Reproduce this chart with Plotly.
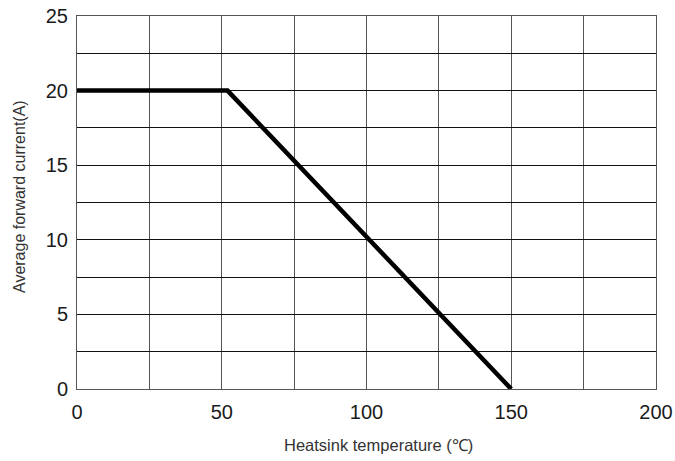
import plotly.graph_objects as go

# Data
temp_c = [0, 52, 150]
current_a = [20, 20, 0]

x_grid = [0, 25, 50, 75, 100, 125, 150, 175, 200]
x_labels = ["0", "", "50", "", "100", "", "150", "", "200"]
y_grid = [0, 2.5, 5, 7.5, 10, 12.5, 15, 17.5, 20, 22.5, 25]
y_labels = ["0", "", "5", "", "10", "", "15", "", "20", "", "25"]

FONT = "Liberation Sans, Arial, sans-serif"

fig = go.Figure()
fig.add_trace(go.Scatter(
    x=temp_c, y=current_a, mode="lines",
    line=dict(color="black", width=4.5),
    showlegend=False, hoverinfo="skip",
))

fig.update_layout(
    width=675, height=461,
    margin=dict(l=77, r=19, t=16, b=72, autoexpand=False),
    paper_bgcolor="white", plot_bgcolor="white",
    font=dict(family=FONT, color="#1a1a1a"),
    xaxis=dict(
        range=[0, 200], tickvals=x_grid, ticktext=x_labels,
        showgrid=True, gridcolor="#555555", gridwidth=1,
        showline=True, linecolor="#555555", linewidth=1, mirror=True,
        zeroline=False, ticks="", tickfont=dict(size=20, color="#1a1a1a"),
        ticklabelstandoff=5, automargin=False,
    ),
    yaxis=dict(
        range=[0, 25], tickvals=y_grid, ticktext=y_labels,
        showgrid=True, gridcolor="#111111", gridwidth=1,
        showline=True, linecolor="#555555", linewidth=1, mirror=True,
        zeroline=False, ticks="", tickfont=dict(size=20, color="#1a1a1a"),
        ticklabelstandoff=4, automargin=False,
    ),
    annotations=[
        dict(text="Heatsink temperature (℃)", xref="paper", yref="paper",
             x=(378 - 77) / 579, y=-(445 - 389) / 373, xanchor="center", yanchor="middle",
             showarrow=False, font=dict(size=16.5, color="#333333", family=FONT)),
        dict(text="Average forward current(A)", xref="paper", yref="paper",
             x=-(77 - 19) / 579, y=(389 - 197) / 373, xanchor="center", yanchor="middle",
             textangle=-90, showarrow=False, font=dict(size=16, color="#333333", family=FONT)),
    ],
)

fig.write_html("out.html", post_script="document.body.style.margin='0';",
               config={"displayModeBar": False, "staticPlot": True})
